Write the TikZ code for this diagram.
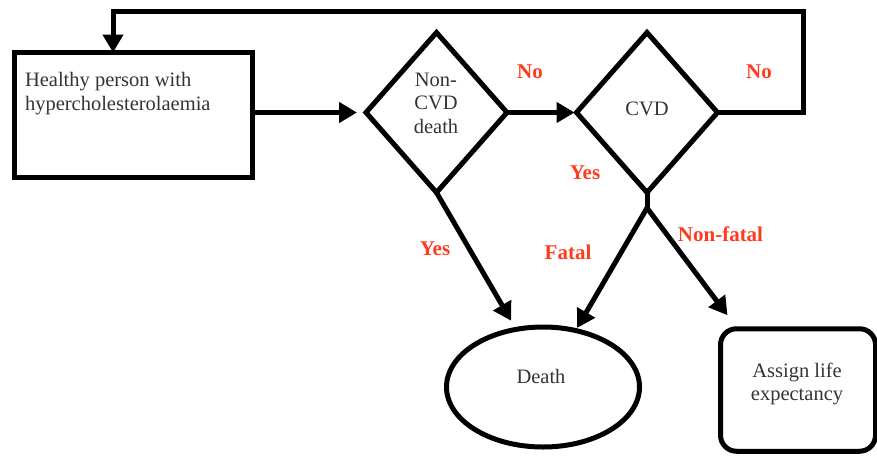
\documentclass[tikz,border=0pt]{standalone}
\usepackage{fontspec}
\setmainfont{Liberation Serif}
\usetikzlibrary{shapes.geometric,arrows.meta}
\definecolor{ink}{RGB}{51,51,51}
\definecolor{answer}{RGB}{255,59,31}

\begin{document}
\begin{tikzpicture}[x=1pt,y=-1pt,
  every node/.style={outer sep=0pt, inner sep=0pt},
  frame/.style={draw, line width=5pt},
  txt/.style={text=ink, font=\fontsize{20.5}{23.5}\selectfont},
  ans/.style={text=answer, font=\fontsize{21}{24}\selectfont\bfseries, anchor=base},
  flow/.style={line width=5pt, line cap=round, -{Triangle[length=18pt,width=20pt]}},
  decision/.style={frame, diamond, aspect=0.88, minimum width=141pt, minimum height=160pt},
]
\useasboundingbox (0,0) rectangle (877,456);

% boxes and decisions
\node[frame, minimum width=238pt, minimum height=124.5pt] (start) at (133.5,114.75) {};
\node[txt, anchor=north west, align=left] (starttext) at (25,72.5) {Healthy person with\\hypercholesterolaemia};

\node[decision] (ncvd) at (436.5,112.5) {};
\node[txt, anchor=north, align=center] (ncvdtext) at (436,73) {Non-\\CVD\\death};

\node[decision] (cvd) at (647,112.5) {};
\node[txt, anchor=base] (cvdtext) at (647,115) {CVD};

\node[frame, ellipse, minimum width=193pt, minimum height=120pt] (death) at (543,387) {};
\node[txt, anchor=base] (deathtext) at (541,383) {Death};

\node[frame, rounded corners=16pt, minimum width=155pt, minimum height=122.5pt] (life) at (798,390) {};
\node[txt, anchor=north, align=center] (lifetext) at (797,363) {Assign life\\expectancy};

% routing points
\coordinate (split) at (647,208);
\coordinate (loopR) at (803.5,11);
\coordinate (loopL) at (113,11);

% connectors
\draw[flow, shorten >=9pt] (start.east |- ncvd.west) -- (ncvd.west);
\draw[flow, shorten >=2pt] (ncvd.east) -- (cvd.west);
\draw[flow] (cvd.east) -| (loopR) -- (loopL) -- (loopL |- start.north);
\draw[flow, shorten >=10pt] (ncvd.south) -- (death.115);
\draw[line width=5pt] (cvd.south) -- (split);
\draw[flow, shorten >=3pt] (split) -- (death.60);
\draw[flow] (split) -- ([xshift=7pt,yshift=13.5pt]life.north west);

% answers
\node[ans] (noA) at (530,78) {No};
\node[ans] (noB) at (759,78) {No};
\node[ans] (yesA) at (585,179) {Yes};
\node[ans] (yesB) at (435,255) {Yes};
\node[ans] (fatal) at (568,259) {Fatal};
\node[ans] (nonfatal) at (720.5,241) {Non-fatal};
\end{tikzpicture}
\end{document}
